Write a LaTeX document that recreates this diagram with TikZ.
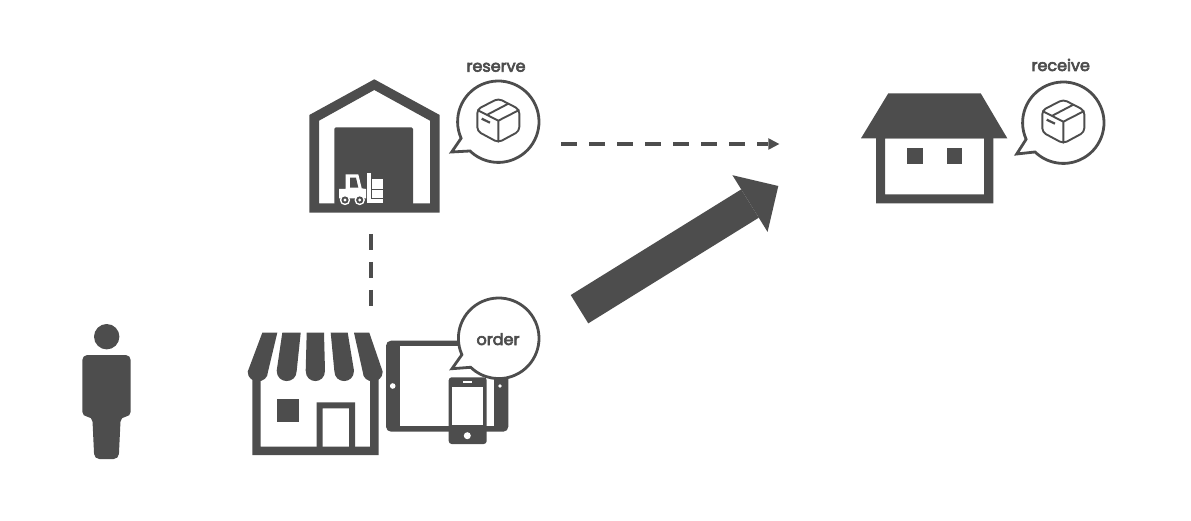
\documentclass[tikz,border=0pt]{standalone}
\usepackage{fontspec}
\newfontfamily\capfont[FakeBold=4]{Poppins}
\usetikzlibrary{arrows.meta}
\definecolor{ink}{HTML}{4D4D4D}
\tikzset{
  solidink/.style={fill=ink,draw=none},
  blank/.style={fill=white,draw=none},
  holed/.style={fill=ink,draw=none,even odd rule},
  speech/.style={draw=ink,fill=white,line width=2.8pt,line join=miter},
  parcelline/.style={draw=ink,line width=1.9pt,line join=round,line cap=round},
  caption/.style={inner sep=0pt,text=ink,font=\capfont\fontsize{16}{18}\selectfont,anchor=base},
  dashlink/.style={draw=ink,line width=4pt,dash pattern=on 16.3pt off 11.7pt},
  pics/parcel/.style={code={
    \draw[parcelline,rounded corners=4pt] (0,-22.2)--(21,-11.4)--(21,10.5)--(0,21.8)--(-21,10.5)--(-21,-11.4)--cycle;
    \draw[parcelline] (-20.5,-10.5)--(0,0)--(20.5,-10.5) (0,0)--(0,21);
    \draw[parcelline] (-11,-6)--(10,-17);
    \draw[draw=ink,line width=2.2pt] (-16.6,-2)--(-8.3,2);
  }}
}
\newcommand{\bubblepath}[6]{% centre x,y; radius; start angle; end angle; tip
  \draw[speech] (#4:#3)++(#1,#2) arc[start angle=#4,end angle=#5,radius=#3] -- (#6) -- cycle;}
\begin{document}
\begin{tikzpicture}[x=1pt,y=-1pt]
\useasboundingbox (0,0) rectangle (1191,521);
% person
\fill[ink] (106.7,336.7) circle[radius=12.7];
\fill[ink,rounded corners=5pt] (94.3,459) -- (92.3,416.7) -- (82.3,416.7) -- (82.3,355) -- (130.7,355) -- (130.7,416.7) -- (120.7,416.7) -- (118.7,459) -- cycle;
% warehouse
\path[holed] (374.3,79.3)--(439.7,115)--(439.7,212.7)--(309.3,212.7)--(309.3,115)--cycle
  (374.3,90)--(430,120.7)--(430,203.3)--(319,203.3)--(319,120.7)--cycle;
\fill[ink,rounded corners=1.5pt] (334.3,205)--(334.3,127.3)--(413,127.3)--(413,205)--cycle;
% forklift
\fill[white] (339,189)--(345.7,189)--(345.7,174.3)--(358.3,174.3)--(361.7,188.3)--(366,189)--(366,198.3)--(339,198.3)--cycle;
\fill[ink] (350,177.7)--(356,177.7)--(358.3,187.7)--(350,187.7)--cycle;
\fill[white] (367.3,173.3) rectangle (371,202.7);
\fill[white] (367.3,199.3) rectangle (383.3,202.7);
\fill[white] (372.3,179.3) rectangle (383.3,188.7);
\fill[white] (372.3,190) rectangle (383.3,198);
\foreach \wx in {345,359.7}{
  \fill[white] (\wx,200) circle[radius=5.2];
  \fill[ink] (\wx,200) circle[radius=3.6];
  \fill[white] (\wx,200) circle[radius=1.6];
}
% house
\fill[ink] (888.3,93.3)--(980.7,93.3)--(1007.3,138.3)--(861,138.3)--cycle;
\path[holed] (876,137)rectangle(993.3,203.3) (885,138.3)rectangle(984,194.3);
\fill[ink] (907.3,148.3) rectangle (922.7,163.7);
\fill[ink] (946.7,148.3) rectangle (962,163.7);
% store
\path[holed] (252.3,372)rectangle(378.7,455) (260.7,372)rectangle(370,446.7);
\fill[ink] (276.7,399) rectangle (299.3,421.7);
\path[holed] (316.7,402.3)rectangle(355,447) (322.7,408.3)rectangle(349,447);
\fill[white] (248,333) rectangle (383,375);
\fill[ink] (262.3,332.7)--(277.3,332.7)--(268,371.7) .. controls (268,384.5) and (247.7,384.5) .. (247.7,371.7) -- cycle;
\fill[ink] (282.3,332.7)--(300.7,332.7)--(296.7,370.7) .. controls (296.7,384.5) and (276.7,384.5) .. (276.7,370.7) -- cycle;
\fill[ink] (306.7,332.7)--(324,332.7)--(325,370.7) .. controls (325,384.5) and (305.7,384.5) .. (305.7,370.7) -- cycle;
\fill[ink] (330.7,332.7)--(347.7,332.7)--(354,370.7) .. controls (354,384.5) and (334.3,384.5) .. (334.3,370.7) -- cycle;
\fill[ink] (354,332.7)--(369.3,332.7)--(382.7,371.7) .. controls (382.7,384.5) and (362.7,384.5) .. (362.7,371.7) -- cycle;
% tablet
\path[fill=ink,rounded corners=5pt] (386,340.7) rectangle (508.3,431.7);
\fill[white] (400,346) rectangle (494.3,425.7);
\fill[white] (392.7,386) circle[radius=2.8];
\fill[white] (500,386) circle[radius=1.8];
% phone
\path[fill=ink,rounded corners=3pt] (448.7,377.3) rectangle (486.7,444);
\fill[white] (452.3,387.3) rectangle (482.7,425);
\fill[white] (463.3,380.8) rectangle (471.7,382.6);
\fill[white] (467.3,435.7) circle[radius=3.5];
% speech bubbles
\coordinate (tipA) at (451.7,152);
\coordinate (tipB) at (1016.7,154);
\coordinate (tipC) at (452,368.7);
\bubblepath{498.3}{121.7}{40.7}{156}{494}{tipA}
\bubblepath{1063.3}{122.7}{40.7}{156}{494}{tipB}
\bubblepath{498.7}{338.3}{40.3}{156}{494}{tipC}
\pic at (498.3,120.7) {parcel};
\pic at (1063.3,121.7) {parcel};
% captions
\node[caption] (reserve) at (496,71.7) {reserve};
\node[caption] (receive) at (1060.7,71) {receive};
\node[caption] (order) at (498,345) {order};
% connectors
\coordinate (whS) at (371,234);
\coordinate (stN) at (371,306);
\coordinate (whE) at (561,144);
\coordinate (hsW) at (779.3,144);
\coordinate (stE) at (579.5,309.2);
\coordinate (hsS) at (778.3,186);
\draw[dashlink] (whS) -- (stN);
\draw[dashlink,-{Triangle[length=11pt,width=11.7pt,line width=0pt]}] (whE) -- (hsW);
\draw[draw=ink,line width=33.3pt,-{Triangle[length=33.3pt,width=66.7pt,line width=0pt]}] (stE) -- (hsS);
\end{tikzpicture}
\end{document}
